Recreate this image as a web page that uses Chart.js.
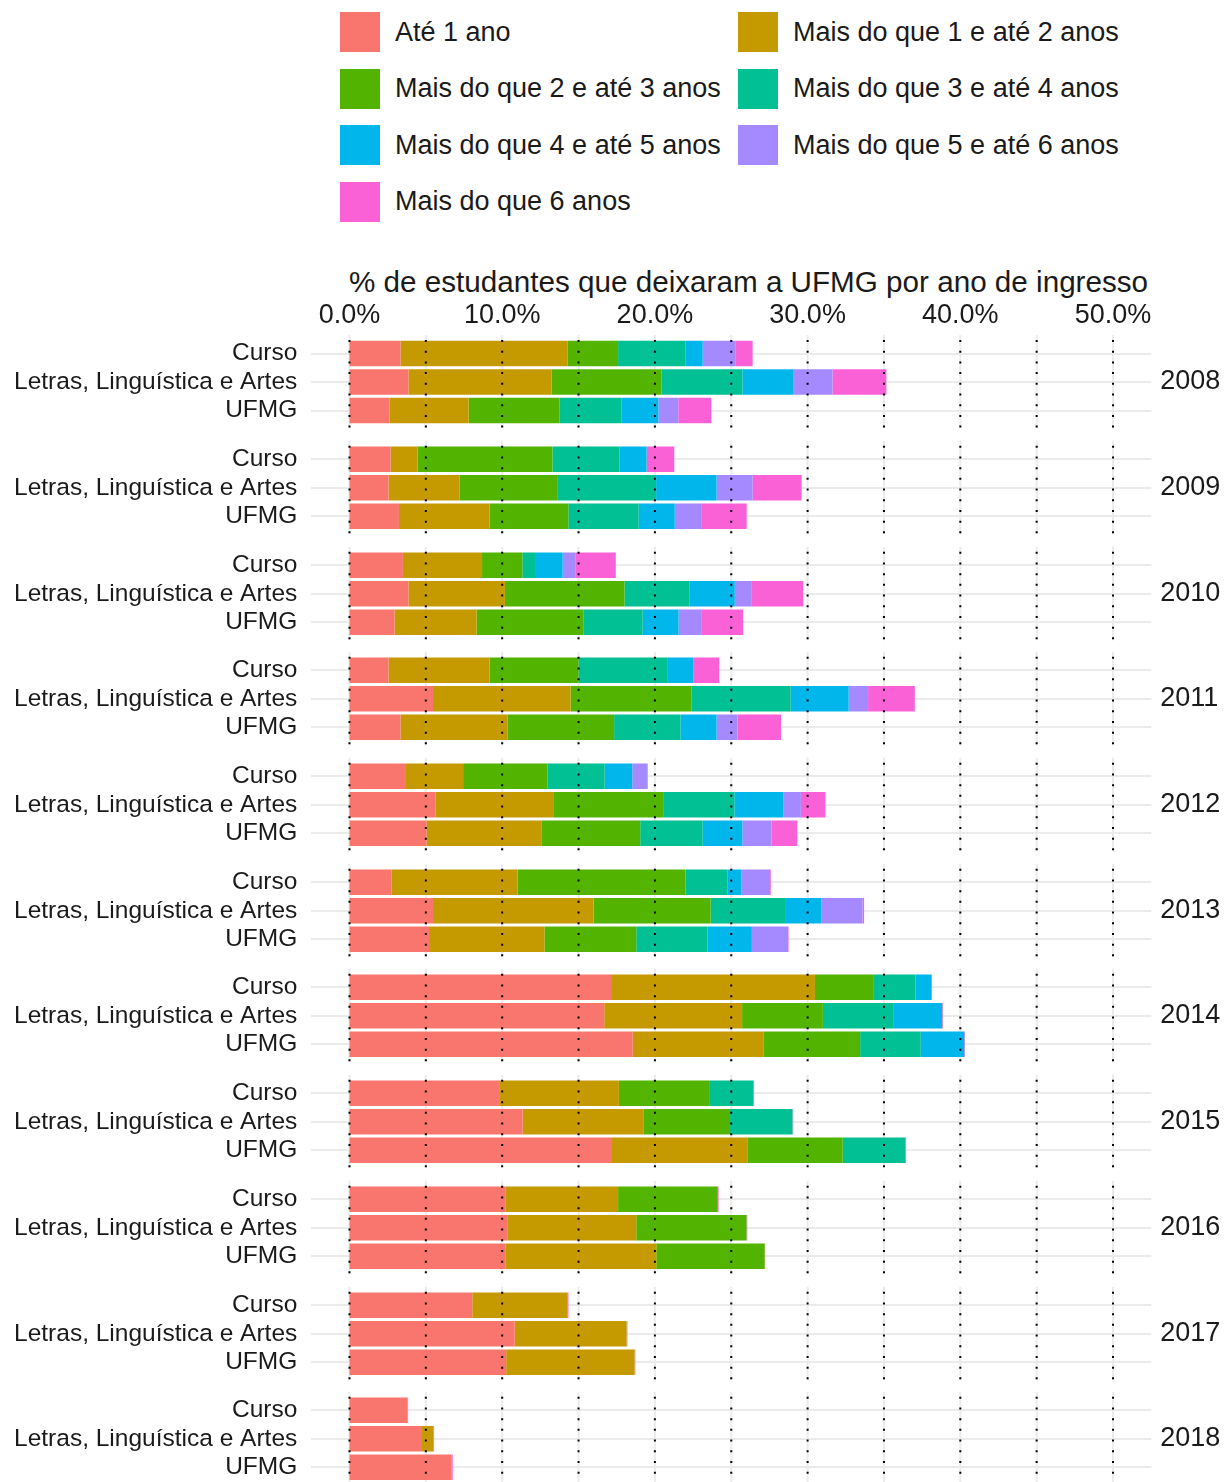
<!DOCTYPE html>
<html>
<head>
<meta charset="UTF-8">
<title>Estudantes que deixaram a UFMG por ano de ingresso</title>
<script src="https://cdn.jsdelivr.net/npm/chart.js@4.4.1/dist/chart.umd.min.js"></script>
<style>
  body { margin: 0; background: #fff; font-family: "Liberation Sans", Arial, sans-serif; color: #1a1a1a; }
  #page { position: relative; width: 1226px; height: 1482px; overflow: hidden; background: #fff; }
  #page canvas { position: absolute; left: 0; }
  .key { position: absolute; width: 40px; height: 40px; }
  .item { position: absolute; height: 40px; display: flex; align-items: center; font-size: 27px; white-space: nowrap; }
  .item span { line-height: 1; }
  #title { position: absolute; left: 349px; top: 266.7px; font-size: 29.65px; line-height: 29.5px; white-space: nowrap; }
</style>
</head>
<body>
<div id="page">
  <div id="legend"></div>
  <div id="title">% de estudantes que deixaram a UFMG por ano de ingresso</div>
</div>

<script>
// anos de ingresso (um painel por ano)
var years = ['2008', '2009', '2010', '2011', '2012', '2013', '2014', '2015', '2016', '2017', '2018'];
var groups = ['Curso', 'Letras, Linguística e Artes', 'UFMG'];
var durations = ['Até 1 ano', 'Mais do que 1 e até 2 anos', 'Mais do que 2 e até 3 anos',
                 'Mais do que 3 e até 4 anos', 'Mais do que 4 e até 5 anos',
                 'Mais do que 5 e até 6 anos', 'Mais do que 6 anos'];
var colors = ['#F8766D', '#C49A00', '#53B400', '#00C094', '#00B6EB', '#A58AFF', '#FB61D7'];

// % por faixa de permanência, uma linha por ano (2008..2018)
var curso = [
  [3.34, 10.93, 3.32, 4.40, 1.14, 2.13, 1.14],
  [2.69, 1.77, 8.83, 4.40, 1.77, 0, 1.81],
  [3.50, 5.18, 2.64, 0.83, 1.81, 0.86, 2.62],
  [2.56, 6.61, 5.83, 5.80, 1.71, 0, 1.71],
  [3.70, 3.74, 5.54, 3.73, 1.81, 0.96, 0.05],
  [2.75, 8.26, 10.99, 2.74, 0.93, 1.87, 0.05],
  [17.13, 13.35, 3.81, 2.78, 1.03, 0, 0.05],
  [9.80, 7.84, 5.91, 2.90, 0, 0, 0.05],
  [10.20, 7.39, 6.53, 0, 0, 0, 0.05],
  [8.04, 6.25, 0, 0, 0, 0, 0.05],
  [3.81, 0, 0, 0, 0, 0, 0.03]
];
var letras = [
  [3.86, 9.38, 7.20, 5.29, 3.36, 2.54, 3.53],
  [2.56, 4.64, 6.40, 6.48, 3.96, 2.36, 3.21],
  [3.86, 6.32, 7.83, 4.24, 2.98, 1.12, 3.37],
  [5.47, 9.01, 7.93, 6.48, 3.80, 1.27, 3.06],
  [5.62, 7.77, 7.15, 4.67, 3.21, 1.14, 1.61],
  [5.47, 10.51, 7.67, 4.93, 2.33, 2.69, 0.10],
  [16.68, 9.03, 5.29, 4.60, 3.21, 0, 0.05],
  [11.34, 7.90, 5.68, 4.09, 0, 0, 0.05],
  [10.37, 8.41, 7.22, 0, 0, 0, 0.05],
  [10.82, 7.33, 0, 0, 0, 0, 0.05],
  [4.69, 0.82, 0, 0, 0, 0, 0.03]
];
var ufmg = [
  [2.62, 5.18, 5.96, 4.04, 2.43, 1.30, 2.17],
  [3.24, 5.93, 5.16, 4.61, 2.36, 1.73, 2.98],
  [2.95, 5.37, 6.99, 3.89, 2.35, 1.48, 2.75],
  [3.34, 7.00, 6.99, 4.35, 2.36, 1.37, 2.85],
  [5.05, 7.51, 6.48, 4.09, 2.60, 1.91, 1.69],
  [5.21, 7.56, 6.01, 4.67, 2.90, 2.38, 0.03],
  [18.55, 8.55, 6.34, 3.97, 2.85, 0, 0.05],
  [17.19, 8.86, 6.25, 4.09, 0, 0, 0.05],
  [10.20, 9.89, 7.10, 0, 0, 0, 0.03],
  [10.26, 8.41, 0, 0, 0, 0, 0.05],
  [6.68, 0, 0, 0, 0, 0, 0.08]
];

var xGridValues = [0, 5, 10, 15, 20, 25, 30, 35, 40, 45, 50];
var xTickValues = [0, 10, 20, 30, 40, 50];
var xTickLabels = ['0.0%', '10.0%', '20.0%', '30.0%', '40.0%', '50.0%'];

Chart.defaults.font.family = '"Liberation Sans", Arial, sans-serif';
Chart.defaults.color = '#1a1a1a';

// legend (html, two columns)
var legend = document.getElementById('legend');
durations.forEach(function (d, i) {
  var col = i % 2, row = Math.floor(i / 2);
  var key = document.createElement('div');
  key.className = 'key';
  key.style.left = (340 + col * 398) + 'px';
  key.style.top = (12 + row * 56.5) + 'px';
  key.style.background = colors[i];
  legend.appendChild(key);
  var item = document.createElement('div');
  item.className = 'item';
  item.style.left = (395 + col * 398) + 'px';
  item.style.top = (12 + row * 56.5) + 'px';
  item.innerHTML = '<span>' + d + '</span>';
  legend.appendChild(item);
});

// gray vertical grid behind bars, dotted black lines on top
var vlines = {
  id: 'vlines',
  beforeDatasetsDraw: function (chart) {
    var ctx = chart.ctx, a = chart.chartArea, x = chart.scales.x;
    ctx.save();
    ctx.strokeStyle = '#EBEBEB';
    ctx.lineWidth = 2;
    xGridValues.forEach(function (v) {
      var px = x.getPixelForValue(v);
      ctx.beginPath();
      ctx.moveTo(px, a.top - 4.25);
      ctx.lineTo(px, a.bottom + 3.8);
      ctx.stroke();
    });
    ctx.restore();
  },
  afterDatasetsDraw: function (chart) {
    var ctx = chart.ctx, a = chart.chartArea, x = chart.scales.x;
    ctx.save();
    ctx.strokeStyle = '#000';
    ctx.lineWidth = 2;
    ctx.setLineDash([2, 8.7]);
    xGridValues.forEach(function (v) {
      var px = x.getPixelForValue(v);
      ctx.beginPath();
      ctx.moveTo(px, a.top + 0.75);
      ctx.lineTo(px, a.bottom + 3);
      ctx.stroke();
    });
    ctx.restore();
  }
};

function noPad(s) {
  s.paddingTop = 0; s.paddingBottom = 0; s.paddingLeft = 0; s.paddingRight = 0;
}

var page = document.getElementById('page');

function makeFacet(k) {
  var first = k === 0;
  var areaTop = 339.25 + 105.7 * k;
  var top = first ? 250 : areaTop - 6;
  var h = first ? 181 : 98;

  var canvas = document.createElement('canvas');
  canvas.width = 1226;
  canvas.height = h;
  canvas.style.top = top + 'px';
  page.appendChild(canvas);

  var datasets = durations.map(function (d, s) {
    return {
      label: d,
      data: [curso[k][s], letras[k][s], ufmg[k][s]],
      backgroundColor: colors[s],
      borderWidth: 0,
      categoryPercentage: 0.9,
      barPercentage: 1.0
    };
  });

  new Chart(canvas, {
    type: 'bar',
    data: { labels: groups, datasets: datasets },
    plugins: [vlines],
    options: {
      indexAxis: 'y',
      responsive: false,
      animation: false,
      layout: { padding: { top: first ? 0 : 6, bottom: first ? 6.25 : 6.5, left: 0, right: 0 } },
      plugins: { legend: { display: false }, tooltip: { enabled: false } },
      scales: {
        x: {
          type: 'linear',
          stacked: true,
          min: -2.5,
          max: 52.5,
          position: 'top',
          display: first,
          grid: { display: false, drawTicks: false },
          border: { display: false },
          afterBuildTicks: function (s) {
            s.ticks = xGridValues.map(function (v) { return { value: v }; });
          },
          afterFit: function (s) {
            s.height = first ? 89.25 : 0;
            noPad(s);
          },
          ticks: {
            padding: 7.7,
            maxRotation: 0,
            autoSkip: false,
            font: { size: 27 },
            callback: function (v) {
              var i = xTickValues.indexOf(v);
              return i >= 0 ? xTickLabels[i] : '';
            }
          }
        },
        y: {
          type: 'category',
          stacked: true,
          offset: true,
          grid: { offset: false, color: '#EBEBEB', lineWidth: 2, drawTicks: false },
          border: { display: false },
          afterFit: function (s) { s.width = 311.3; noPad(s); },
          ticks: { padding: 14, autoSkip: false, font: { size: 24.5 } }
        },
        y2: {
          type: 'category',
          position: 'right',
          labels: ['', years[k], ''],
          offset: true,
          grid: { display: false, drawTicks: false },
          border: { display: false },
          afterFit: function (s) { s.width = 74.8; noPad(s); },
          ticks: { padding: 9, autoSkip: false, font: { size: 27 } }
        }
      }
    }
  });
}

for (var k = 0; k < years.length; k++) makeFacet(k);
</script>
</body>
</html>
